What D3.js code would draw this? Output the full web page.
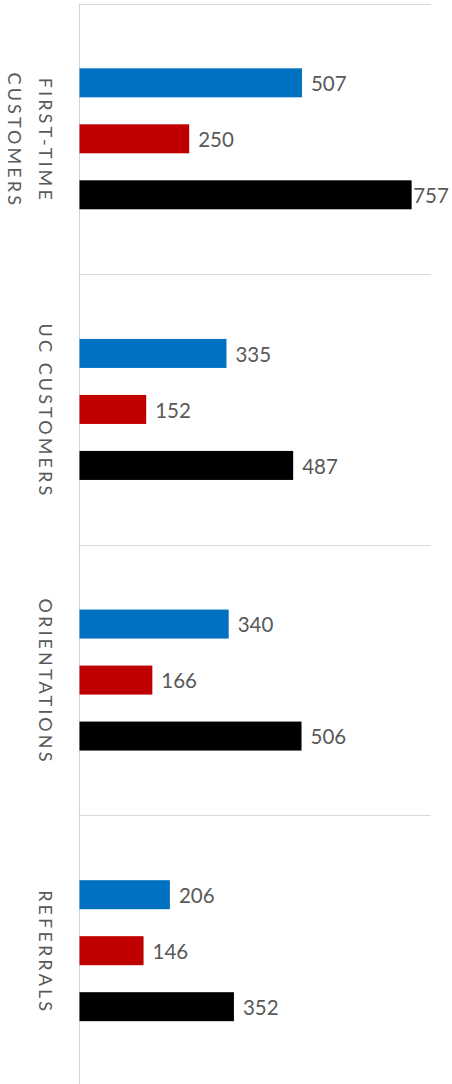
<!DOCTYPE html>
<html>
<head>
<meta charset="utf-8">
<script src="https://cdn.jsdelivr.net/npm/d3@7"></script>
<style>
  html, body { margin: 0; padding: 0; background: #ffffff; }
  svg { display: block; }
</style>
</head>
<body>
<div id="chart"></div>
<script>
// Category groups (top to bottom); each label may wrap onto two lines
const categories = ["FIRST-TIME CUSTOMERS", "UC CUSTOMERS", "ORIENTATIONS", "REFERRALS"];
const categoryLines = [["FIRST-TIME", "CUSTOMERS"], ["UC CUSTOMERS"], ["ORIENTATIONS"], ["REFERRALS"]];

// Three series per category
const seriesNames = ["Series A", "Series B", "Total"];
const seriesA = [507, 335, 340, 206];
const seriesB = [250, 152, 166, 146];
const seriesTotal = [757, 487, 506, 352];
const seriesColors = ["#0070C0", "#C00000", "#000000"];

const xDomain = [0, 800];

const W = 452, H = 1084;
const plot = { left: 79.5, right: 430.5, top: 3.5, bottom: 1086 };

const svg = d3.select("#chart").append("svg")
  .attr("width", W).attr("height", H);

const y = d3.scaleBand()
  .domain(categories)
  .range([plot.top, plot.bottom])
  .paddingInner(0).paddingOuter(0);

const yInner = d3.scaleBand()
  .domain(seriesNames)
  .range([y.bandwidth() / 2 - 84, y.bandwidth() / 2 + 84])
  .paddingInner(27 / 56)
  .paddingOuter(13.5 / 56);

const x = d3.scaleLinear().domain(xDomain).range([plot.left, plot.right]);

// Category separators
svg.append("g")
  .selectAll("line")
  .data(categories)
  .join("line")
  .attr("x1", plot.left - 1).attr("x2", plot.right)
  .attr("y1", d => Math.round(y(d)) + 0.5)
  .attr("y2", d => Math.round(y(d)) + 0.5)
  .attr("stroke", "#d9d9d9").attr("stroke-width", 1);

// Vertical category axis line
svg.append("line")
  .attr("x1", plot.left).attr("x2", plot.left)
  .attr("y1", plot.top).attr("y2", H)
  .attr("stroke", "#d4d4d4").attr("stroke-width", 1);

const rows = [];
categories.forEach((c, i) => {
  [seriesA, seriesB, seriesTotal].forEach((arr, s) => {
    rows.push({ cat: c, series: seriesNames[s], value: arr[i], color: seriesColors[s] });
  });
});

const groups = svg.append("g");

groups.selectAll("rect")
  .data(rows)
  .join("rect")
  .attr("x", x(0))
  .attr("y", d => y(d.cat) + yInner(d.series))
  .attr("width", d => x(d.value) - x(0))
  .attr("height", yInner.bandwidth())
  .attr("fill", d => d.color);

// Value labels to the right of each bar, kept inside the drawing
const labels = groups.selectAll("text.value")
  .data(rows)
  .join("text")
  .attr("class", "value")
  .attr("y", d => y(d.cat) + yInner(d.series) + yInner.bandwidth() / 2 + 1)
  .attr("dy", "0.36em")
  .attr("font-family", "Lato, 'Open Sans', sans-serif")
  .attr("font-size", 20.5)
  .attr("fill", "#595959")
  .text(d => d.value);

labels.each(function (d) {
  const w = this.getComputedTextLength();
  let px = x(d.value) + 9;
  if (px + w > W - 2) px = x(d.value) + 1.5;
  d3.select(this).attr("x", px);
});

// Rotated category labels
const catLabels = svg.append("g")
  .selectAll("text")
  .data(categories)
  .join("text")
  .attr("transform", d => `translate(39, ${y(d) + y.bandwidth() / 2 + 1.5}) rotate(90)`)
  .attr("text-anchor", "middle")
  .attr("font-family", "Lato, 'Open Sans', sans-serif")
  .attr("font-size", 18)
  .attr("letter-spacing", 3.1)
  .attr("fill", "#595959");

catLabels.each(function (d, i) {
  const t = d3.select(this);
  categoryLines[i].forEach((line, k) => {
    t.append("tspan")
      .attr("x", 0)
      .attr("y", k * 31)
      .text(line);
  });
});
</script>
</body>
</html>
